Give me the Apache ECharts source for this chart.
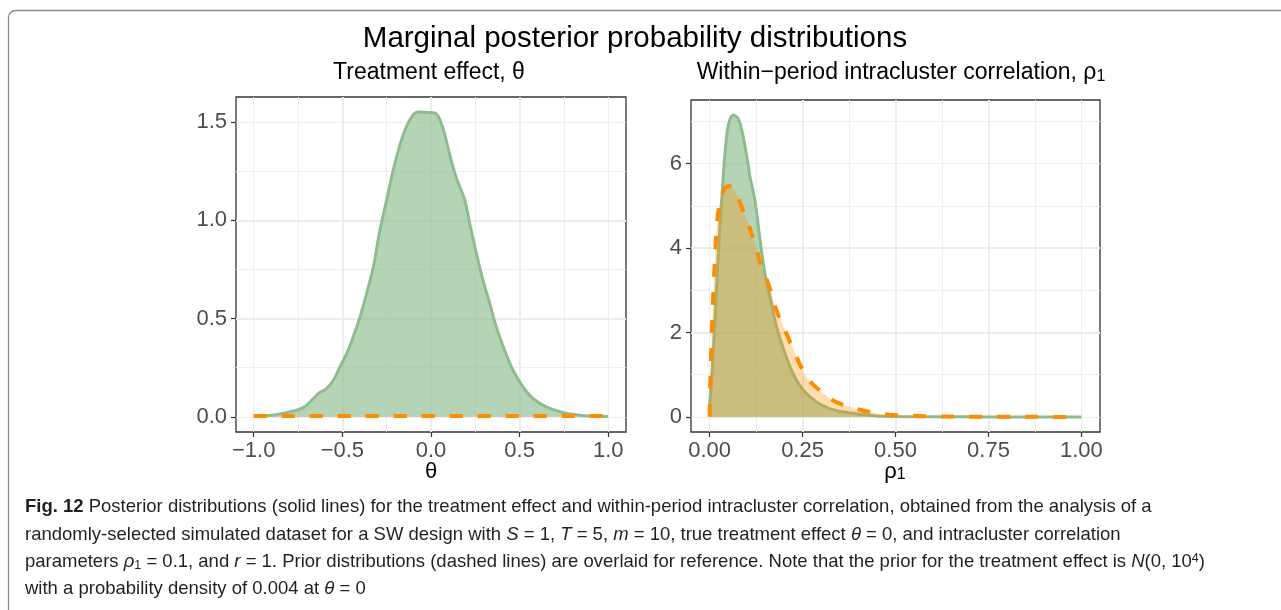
<!DOCTYPE html>
<html><head><meta charset="utf-8">
<script src="https://cdn.jsdelivr.net/npm/echarts@6/dist/echarts.min.js"></script>
<style>html,body{margin:0;padding:0;background:#fff;} #c{width:1281px;height:610px;}</style>
</head><body><div id="c"></div>
<script>
// ---- data ----
const thetaX = [-1.0, -0.94, -0.888, -0.84, -0.794, -0.756, -0.709, -0.663, -0.634, -0.588, -0.55, -0.513, -0.475, -0.438, -0.40, -0.363, -0.325, -0.288, -0.25, -0.213, -0.175, -0.138, -0.10, -0.072, -0.025, 0.022, 0.05, 0.078, 0.106, 0.143, 0.19, 0.218, 0.256, 0.293, 0.331, 0.368, 0.415, 0.462, 0.518, 0.575, 0.649, 0.743, 0.837, 0.92, 1.0];
const thetaPosterior = [0.002, 0.006, 0.009, 0.016, 0.026, 0.034, 0.054, 0.093, 0.119, 0.144, 0.187, 0.255, 0.323, 0.408, 0.51, 0.628, 0.764, 0.95, 1.104, 1.257, 1.384, 1.478, 1.537, 1.551, 1.549, 1.546, 1.512, 1.435, 1.333, 1.215, 1.104, 0.985, 0.832, 0.696, 0.578, 0.459, 0.34, 0.238, 0.153, 0.093, 0.051, 0.022, 0.008, 0.003, 0.001];
const thetaPriorX = [-1.0, -0.5, 0.0, 0.5, 1.0];
const thetaPrior = [0.004, 0.004, 0.004, 0.004, 0.004];

const rhoX = [0, 0.006, 0.015, 0.024, 0.033, 0.042, 0.051, 0.064, 0.078, 0.091, 0.102, 0.109, 0.122, 0.136, 0.149, 0.163, 0.18, 0.203, 0.225, 0.252, 0.288, 0.323, 0.359, 0.404, 0.448, 0.5, 0.6, 0.7, 0.8, 0.9, 1.0];
const rhoPosterior = [0.31, 0.94, 2.36, 3.94, 5.2, 6.3, 6.93, 7.15, 7.05, 6.61, 6.06, 5.67, 5.12, 4.17, 3.39, 2.83, 2.13, 1.50, 1.02, 0.63, 0.35, 0.197, 0.12, 0.065, 0.022, 0.008, 0.002, 0.001, 0.0, 0.0, 0.0];
const rhoPriorX = [0, 0.002, 0.005, 0.008, 0.012, 0.017, 0.024, 0.0375, 0.051, 0.069, 0.087, 0.104, 0.122, 0.14, 0.158, 0.18, 0.207, 0.234, 0.261, 0.296, 0.332, 0.377, 0.43, 0.484, 0.53, 0.59, 0.7, 0.8, 0.9, 1.0];
const rhoPrior = [0, 0.8, 1.7, 2.5, 3.3, 4.2, 4.9, 5.35, 5.47, 5.35, 4.96, 4.57, 4.09, 3.54, 3.15, 2.52, 1.97, 1.42, 0.94, 0.63, 0.39, 0.236, 0.118, 0.05, 0.035, 0.016, 0.005, 0.002, 0.001, 0.0];

const thetaTicks = [-1.0, -0.5, 0.0, 0.5, 1.0];
const thetaDensityTicks = [0.0, 0.5, 1.0, 1.5];
const rhoTicks = [0.00, 0.25, 0.50, 0.75, 1.00];
const rhoDensityTicks = [0, 2, 4, 6];

// ---- helpers ----
const zip = (xs, ys) => xs.map((x, i) => [x, ys[i]]);
const FONT = '"Liberation Sans", Arial, Helvetica, sans-serif';
const fmt1 = v => (v < -1e-9 ? '\u2212' : '') + Math.abs(v).toFixed(1);
const fmt2 = v => Math.abs(v).toFixed(2);
const fmt0 = v => String(Math.round(v));
const GRID_MAJOR = '#EBEBEB';

function majorAxis(gridIndex, min, max, step, ticks, fmt, isX) {
  return {
    type: 'value', gridIndex, min, max, minInterval: step, maxInterval: step,
    position: isX ? 'bottom' : 'left',
    axisLine: { show: false, onZero: false },
    axisTick: { show: true, inside: false, length: 5, customValues: ticks, lineStyle: { color: '#333333', width: 1.2 } },
    axisLabel: { show: true, customValues: ticks, formatter: fmt, fontFamily: FONT, fontSize: 22, color: '#4D4D4D', margin: isX ? 8 : 9 },
    splitLine: { show: true, showMinLine: false, showMaxLine: false, lineStyle: { color: GRID_MAJOR, width: 1.8 } },
    z: 1
  };
}
function minorAxis(gridIndex, min, max, step, isX) {
  return {
    type: 'value', gridIndex, min, max, minInterval: step, maxInterval: step,
    position: isX ? 'top' : 'right',
    axisLine: { show: false, onZero: false }, axisTick: { show: false }, axisLabel: { show: false },
    splitLine: { show: true, showMinLine: false, showMaxLine: false, lineStyle: { color: '#EEEEEE', width: 1 } },
    z: 0
  };
}

const chart = echarts.init(document.getElementById('c'), null, { renderer: 'canvas' });
const greenLine = '#8FBC8F', greenFill = 'rgba(143,188,143,0.66)';
const orange = '#FF8C00', orangeFill = 'rgba(255,140,0,0.3)';

const CAP = 18.5;
const capRich = {
  b: { fontWeight: 'bold', fontFamily: FONT, fontSize: CAP, lineHeight: 20 },
  i: { fontStyle: 'italic', fontFamily: FONT, fontSize: CAP, lineHeight: 20 },
  sub: { fontFamily: FONT, fontSize: 12.5, lineHeight: 7, verticalAlign: 'bottom' },
  sup: { fontFamily: FONT, fontSize: 12.5, lineHeight: 7, verticalAlign: 'top' }
};
function capText(y, text) {
  return { type: 'text', x: 25, y, silent: true,
    style: { text, fontFamily: FONT, fontSize: CAP, lineHeight: 20, fill: '#231F20', rich: capRich,
      align: 'left', verticalAlign: 'middle', textAlign: 'left', textVerticalAlign: 'middle' } };
}
const titleRich = {
  sub: { fontFamily: FONT, fontSize: 16, lineHeight: 10, verticalAlign: 'bottom' }
};
function label(x, y, text, size) {
  return { type: 'text', x, y, silent: true,
    style: { text, fontFamily: FONT, fontSize: size, lineHeight: size, fill: '#000000', rich: titleRich,
      align: 'center', verticalAlign: 'middle', textAlign: 'center', textVerticalAlign: 'middle' } };
}

chart.setOption({
  animation: false,
  backgroundColor: '#ffffff',
  grid: [
    { left: 236, top: 97, width: 390, height: 335, show: true, borderColor: '#333333', borderWidth: 1.3, backgroundColor: 'transparent', containLabel: false },
    { left: 691, top: 100, width: 409, height: 332, show: true, borderColor: '#333333', borderWidth: 1.3, backgroundColor: 'transparent', containLabel: false }
  ],
  xAxis: [
    minorAxis(0, -1.1, 1.1, 0.25, true),
    minorAxis(1, -0.05, 1.05, 0.125, true),
    majorAxis(0, -1.1, 1.1, 0.5, thetaTicks, fmt1, true),
    majorAxis(1, -0.05, 1.05, 0.25, rhoTicks, fmt2, true)
  ],
  yAxis: [
    minorAxis(0, -0.0775, 1.6275, 0.25, false),
    minorAxis(1, -0.3575, 7.5075, 1, false),
    majorAxis(0, -0.0775, 1.6275, 0.5, thetaDensityTicks, fmt1, false),
    majorAxis(1, -0.3575, 7.5075, 2, rhoDensityTicks, fmt0, false)
  ],
  series: [
    { type: 'line', name: 'theta posterior', xAxisIndex: 2, yAxisIndex: 2, data: zip(thetaX, thetaPosterior),
      smooth: 0.35, symbol: 'none', lineStyle: { color: greenLine, width: 3 }, areaStyle: { color: greenFill, opacity: 1 }, z: 2 },
    { type: 'line', name: 'theta prior', xAxisIndex: 2, yAxisIndex: 2, data: zip(thetaPriorX, thetaPrior),
      symbol: 'none', lineStyle: { color: orange, width: 4, type: [13, 15], cap: 'butt' }, areaStyle: { color: orangeFill, opacity: 1 }, z: 3 },
    { type: 'line', name: 'rho posterior', xAxisIndex: 3, yAxisIndex: 3, data: zip(rhoX, rhoPosterior),
      smooth: 0.35, symbol: 'none', lineStyle: { color: greenLine, width: 3 }, areaStyle: { color: greenFill, opacity: 1 }, z: 2 },
    { type: 'line', name: 'rho prior', xAxisIndex: 3, yAxisIndex: 3, data: zip(rhoPriorX, rhoPrior),
      smooth: 0.35, symbol: 'none', lineStyle: { color: orange, width: 4, type: [13, 15], cap: 'butt' }, areaStyle: { color: orangeFill, opacity: 1 }, z: 3 }
  ],
  graphic: [
    { type: 'rect', silent: true, shape: { x: 8.5, y: 10.5, width: 1400, height: 800, r: 7 },
      style: { fill: 'none', stroke: '#8a8a8a', lineWidth: 1.3 } },
    label(635, 38.5, 'Marginal posterior probability distributions', 29.5),
    label(429, 73, 'Treatment effect, \u03b8', 23),
    label(901, 73, 'Within\u2212period intracluster correlation, \u03c1{sub|1}', 23),
    label(431, 472, '\u03b8', 22),
    label(895, 472, '\u03c1{sub|1}', 22),
    capText(507, '{b|Fig. 12} Posterior distributions (solid lines) for the treatment effect and within-period intracluster correlation, obtained from the analysis of a'),
    capText(535, 'randomly-selected simulated dataset for a SW design with {i|S} = 1, {i|T} = 5, {i|m} = 10, true treatment effect {i|\u03b8} = 0, and intracluster correlation'),
    capText(562, 'parameters {i|\u03c1}{sub|1} = 0.1, and {i|r} = 1. Prior distributions (dashed lines) are overlaid for reference. Note that the prior for the treatment effect is {i|N}(0, 10{sup|4})'),
    capText(589, 'with a probability density of 0.004 at {i|\u03b8} = 0')
  ]
});
</script>
</body></html>
